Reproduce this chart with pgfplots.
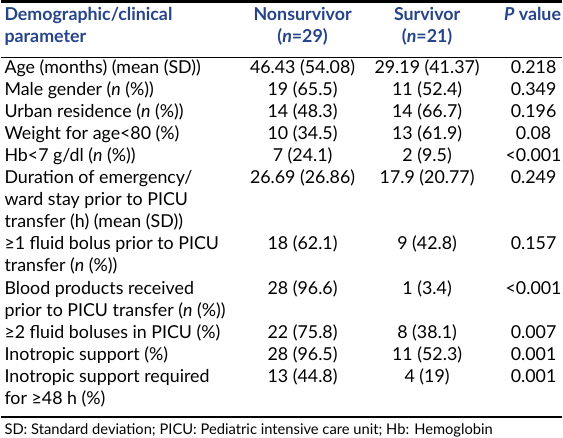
\documentclass[border=0pt]{standalone}
\usepackage{pgfplots}
\pgfplotsset{compat=1.18}
\usepackage{fontspec}
\setmainfont{Lato}
\definecolor{hdr}{RGB}{38,68,138}
\begin{document}
\begin{tikzpicture}
\begin{axis}[
  width=563bp, height=443bp, scale only axis,
  xmin=0, xmax=563, ymin=0, ymax=443, y dir=reverse,
  hide axis, clip=false,
]
% rules
\addplot[black, line width=2.6bp] coordinates {(0,3) (558,3)};
\addplot[black, line width=0.9bp] coordinates {(0,58.5) (558,58.5)};
\addplot[black, line width=2.6bp] coordinates {(0,417) (558,417)};
% header
\begin{scope}[every node/.style={inner sep=0pt, text=hdr, font=\fontsize{17.8}{19}\selectfont\bfseries}]
\node[anchor=mid west] at (axis cs:3,20) {Demographic/clinical};
\node[anchor=mid west] at (axis cs:3,41.5) {parameter};
\node[anchor=mid] at (axis cs:300,20) {Nonsurvivor};
\node[anchor=mid] at (axis cs:300,41.5) {(\textit{n}=29)};
\node[anchor=mid] at (axis cs:424,20) {Survivor};
\node[anchor=mid] at (axis cs:424,41.5) {(\textit{n}=21)};
\node[anchor=mid] at (axis cs:529,20) {\textit{P} value};
\end{scope}
\begin{scope}[every node/.style={inner sep=0pt, font=\fontsize{17.8}{19}\selectfont}]
% body, left column
\node[anchor=mid west] at (axis cs:3,72) {Age (months) (mean (SD))};
\node[anchor=mid west] at (axis cs:3,94) {Male gender (\textit{n} (\%))};
\node[anchor=mid west] at (axis cs:3,116) {Urban residence (\textit{n} (\%))};
\node[anchor=mid west] at (axis cs:3,138) {Weight for age<80 (\%)};
\node[anchor=mid west] at (axis cs:3,160) {Hb<7 g/dl (\textit{n} (\%))};
\node[anchor=mid west] at (axis cs:3,182) {Duration of emergency/};
\node[anchor=mid west] at (axis cs:3,204) {ward stay prior to PICU};
\node[anchor=mid west] at (axis cs:3,226) {transfer (h) (mean (SD))};
\node[anchor=mid west] at (axis cs:3,248) {≥1 fluid bolus prior to PICU};
\node[anchor=mid west] at (axis cs:3,270) {transfer (\textit{n} (\%))};
\node[anchor=mid west] at (axis cs:3,292) {Blood products received};
\node[anchor=mid west] at (axis cs:3,314) {prior to PICU transfer (\textit{n} (\%))};
\node[anchor=mid west] at (axis cs:3,336) {≥2 fluid boluses in PICU (\%)};
\node[anchor=mid west] at (axis cs:3,358) {Inotropic support (\%)};
\node[anchor=mid west] at (axis cs:3,380) {Inotropic support required};
\node[anchor=mid west] at (axis cs:3,402) {for ≥48 h (\%)};
% nonsurvivor
\node[anchor=mid] at (axis cs:300,72) {46.43 (54.08)};
\node[anchor=mid] at (axis cs:300,94) {19 (65.5)};
\node[anchor=mid] at (axis cs:300,116) {14 (48.3)};
\node[anchor=mid] at (axis cs:300,138) {10 (34.5)};
\node[anchor=mid] at (axis cs:300,160) {7 (24.1)};
\node[anchor=mid] at (axis cs:300,182) {26.69 (26.86)};
\node[anchor=mid] at (axis cs:300,248) {18 (62.1)};
\node[anchor=mid] at (axis cs:300,292) {28 (96.6)};
\node[anchor=mid] at (axis cs:300,336) {22 (75.8)};
\node[anchor=mid] at (axis cs:300,358) {28 (96.5)};
\node[anchor=mid] at (axis cs:300,380) {13 (44.8)};
% survivor
\node[anchor=mid] at (axis cs:424,72) {29.19 (41.37)};
\node[anchor=mid] at (axis cs:424,94) {11 (52.4)};
\node[anchor=mid] at (axis cs:424,116) {14 (66.7)};
\node[anchor=mid] at (axis cs:424,138) {13 (61.9)};
\node[anchor=mid] at (axis cs:424,160) {2 (9.5)};
\node[anchor=mid] at (axis cs:424,182) {17.9 (20.77)};
\node[anchor=mid] at (axis cs:424,248) {9 (42.8)};
\node[anchor=mid] at (axis cs:424,292) {1 (3.4)};
\node[anchor=mid] at (axis cs:424,336) {8 (38.1)};
\node[anchor=mid] at (axis cs:424,358) {11 (52.3)};
\node[anchor=mid] at (axis cs:424,380) {4 (19)};
% p value
\node[anchor=mid] at (axis cs:530,72) {0.218};
\node[anchor=mid] at (axis cs:530,94) {0.349};
\node[anchor=mid] at (axis cs:530,116) {0.196};
\node[anchor=mid] at (axis cs:530,138) {0.08};
\node[anchor=mid] at (axis cs:530,160) {<0.001};
\node[anchor=mid] at (axis cs:530,182) {0.249};
\node[anchor=mid] at (axis cs:530,248) {0.157};
\node[anchor=mid] at (axis cs:530,292) {<0.001};
\node[anchor=mid] at (axis cs:530,336) {0.007};
\node[anchor=mid] at (axis cs:530,358) {0.001};
\node[anchor=mid] at (axis cs:530,380) {0.001};
% footnote
\node[anchor=mid west, font=\fontsize{14.7}{16}\selectfont] at (axis cs:3,432) {SD: Standard deviation; PICU: Pediatric intensive care unit; Hb: Hemoglobin};
\end{scope}
\end{axis}
\end{tikzpicture}
\end{document}
